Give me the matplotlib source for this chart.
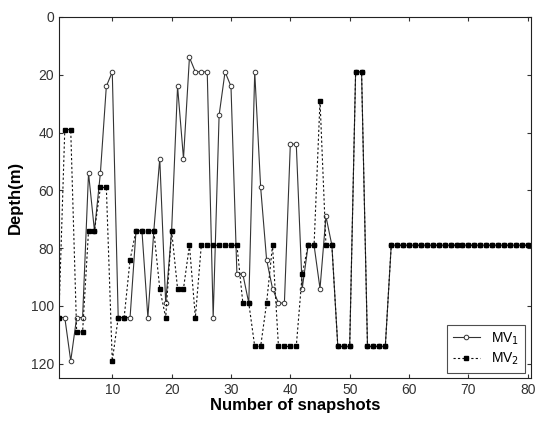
import numpy as np
import matplotlib
matplotlib.use("Agg")
import matplotlib.pyplot as plt

snapshots = list(range(1, 81))

mv1_depth = [
    104, 104, 119, 104, 104, 54, 74, 54, 24, 19,
    104, 104, 104, 74, 74, 104, 74, 49, 99, 74,
    24, 49, 14, 19, 19, 19, 104, 34, 19, 24,
    89, 89, 99, 19, 59, 84, 94, 99, 99, 44,
    44, 94, 79, 79, 94, 69, 79, 114, 114, 114,
    19, 19, 114, 114, 114, 114,
] + [79] * 24

mv2_depth = [
    104, 39, 39, 109, 109, 74, 74, 59, 59, 119,
    104, 104, 84, 74, 74, 74, 74, 94, 104, 74,
    94, 94, 79, 104, 79, 79, 79, 79, 79, 79,
    79, 99, 99, 114, 114, 99, 79, 114, 114, 114,
    114, 89, 79, 79, 29, 79, 79, 114, 114, 114,
    19, 19, 114, 114, 114, 114,
] + [79] * 24

x_ticks = [10, 20, 30, 40, 50, 60, 70, 80]
y_ticks = [0, 20, 40, 60, 80, 100, 120]

plt.rcParams["font.family"] = ["Liberation Sans", "DejaVu Sans"]

fig = plt.figure(figsize=(5.35, 4.24), dpi=100)
ax = fig.add_axes([0.110, 0.108, 0.882, 0.852])

ax.plot(snapshots, mv1_depth, "-", color="#333333", linewidth=0.8,
        marker="o", markersize=3.3, markerfacecolor="white",
        markeredgecolor="#333333", markeredgewidth=0.7, label="MV$_1$")
ax.plot(snapshots, mv2_depth, "--", color="#111111", linewidth=0.8,
        dashes=(2, 2), marker="s", markersize=3.3, markerfacecolor="black",
        markeredgecolor="black", label="MV$_2$")

ax.set_xlim(1, 80.5)
ax.set_ylim(125, 0)
ax.set_xticks(x_ticks)
ax.set_yticks(y_ticks)
ax.tick_params(direction="in", top=True, right=True, length=3,
               labelsize=10, colors="#333333")
for side in ax.spines.values():
    side.set_linewidth(0.8)
    side.set_color("#222222")

ax.set_xlabel("Number of snapshots", fontsize=12, fontweight="bold", labelpad=1)
ax.set_ylabel("Depth(m)", fontsize=12, fontweight="bold", labelpad=6)

leg = ax.legend(loc="lower right", fontsize=10, frameon=True, fancybox=False,
                handlelength=2.0, borderpad=0.4, labelspacing=0.3,
                borderaxespad=0.4)
leg.get_frame().set_edgecolor("#222222")
leg.get_frame().set_linewidth(0.8)

fig.savefig("out.png", dpi=100)
